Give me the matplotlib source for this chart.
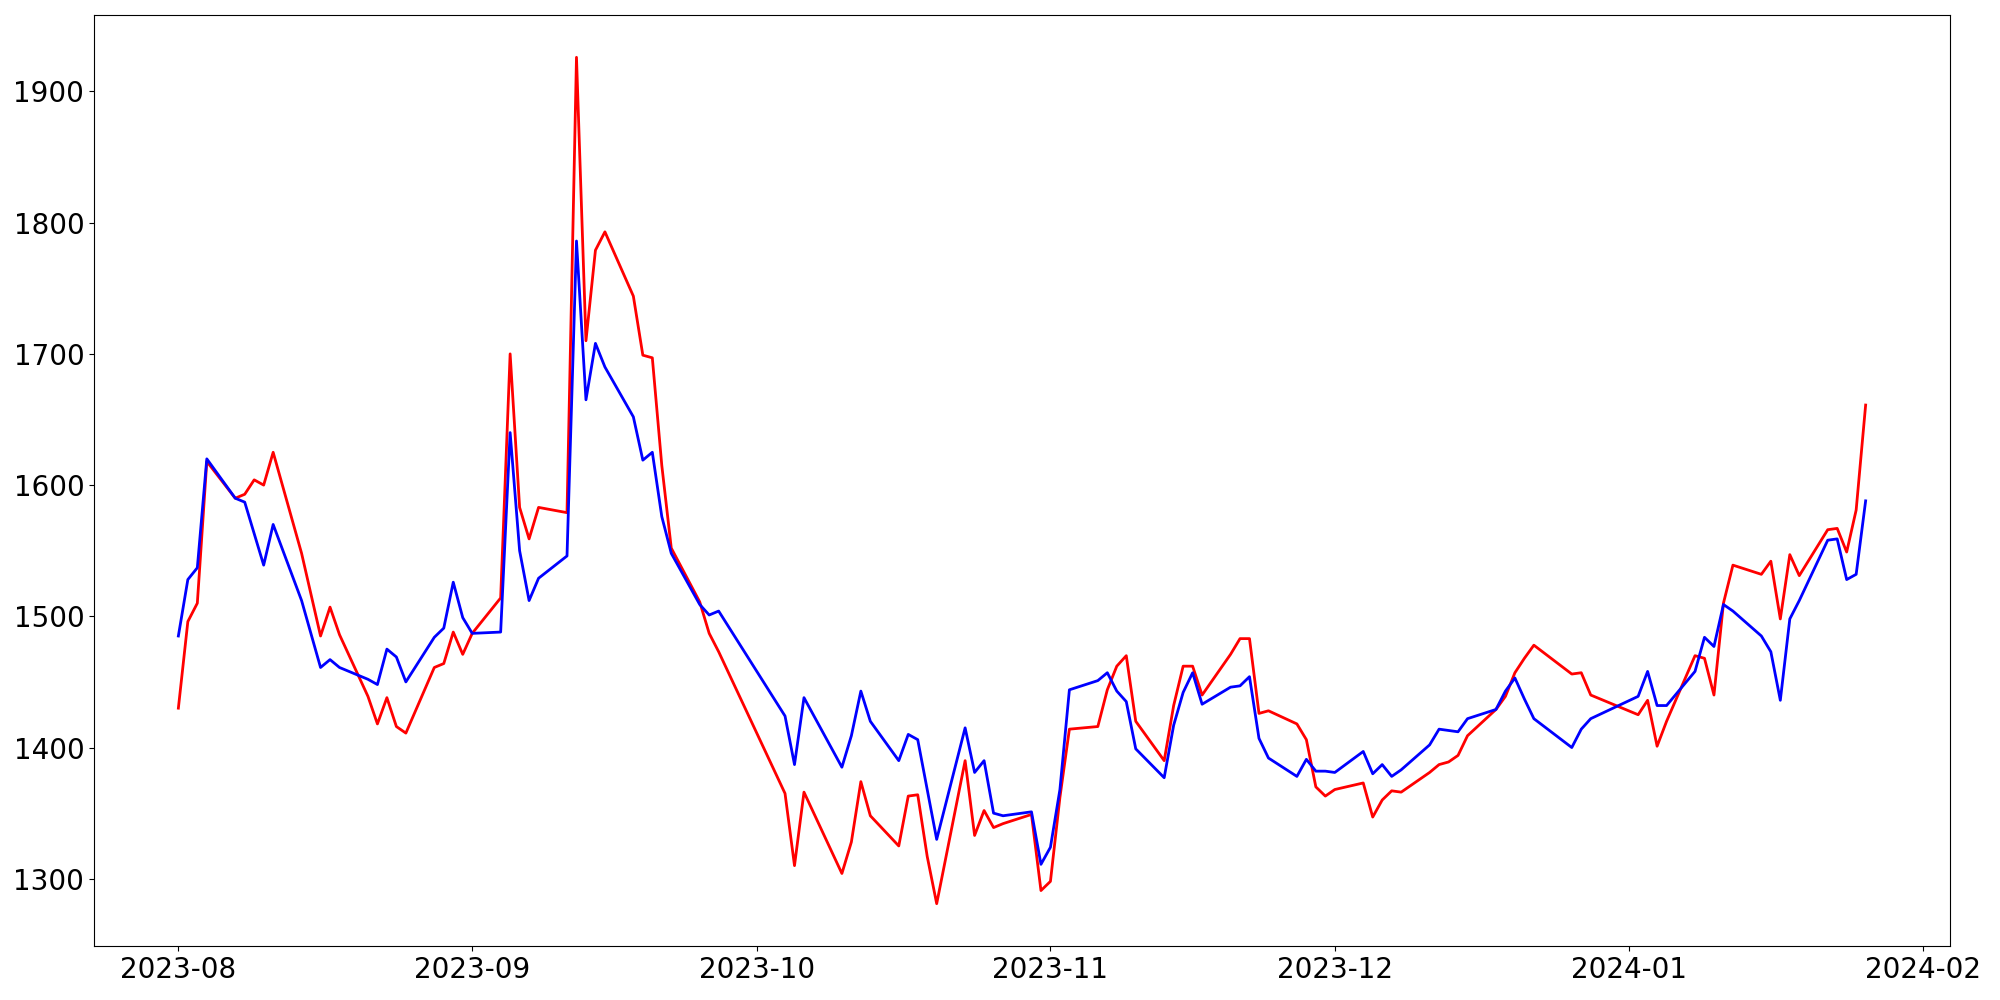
import matplotlib
matplotlib.use("Agg")
import matplotlib.pyplot as plt
import pandas as pd

dates = [
    "2023-08-01", "2023-08-02", "2023-08-03", "2023-08-04", "2023-08-07", "2023-08-08",
    "2023-08-09", "2023-08-10", "2023-08-11", "2023-08-14", "2023-08-16", "2023-08-17",
    "2023-08-18", "2023-08-21", "2023-08-22", "2023-08-23", "2023-08-24", "2023-08-25",
    "2023-08-28", "2023-08-29", "2023-08-30", "2023-08-31", "2023-09-01", "2023-09-04",
    "2023-09-05", "2023-09-06", "2023-09-07", "2023-09-08", "2023-09-11", "2023-09-12",
    "2023-09-13", "2023-09-14", "2023-09-15", "2023-09-18", "2023-09-19", "2023-09-20",
    "2023-09-21", "2023-09-22", "2023-09-25", "2023-09-26", "2023-09-27", "2023-10-04",
    "2023-10-05", "2023-10-06", "2023-10-10", "2023-10-11", "2023-10-12", "2023-10-13",
    "2023-10-16", "2023-10-17", "2023-10-18", "2023-10-19", "2023-10-20", "2023-10-23",
    "2023-10-24", "2023-10-25", "2023-10-26", "2023-10-27", "2023-10-30", "2023-10-31",
    "2023-11-01", "2023-11-02", "2023-11-03", "2023-11-06", "2023-11-07", "2023-11-08",
    "2023-11-09", "2023-11-10", "2023-11-13", "2023-11-14", "2023-11-15", "2023-11-16",
    "2023-11-17", "2023-11-20", "2023-11-21", "2023-11-22", "2023-11-23", "2023-11-24",
    "2023-11-27", "2023-11-28", "2023-11-29", "2023-11-30", "2023-12-01", "2023-12-04",
    "2023-12-05", "2023-12-06", "2023-12-07", "2023-12-08", "2023-12-11", "2023-12-12",
    "2023-12-13", "2023-12-14", "2023-12-15", "2023-12-18", "2023-12-19", "2023-12-20",
    "2023-12-21", "2023-12-22", "2023-12-26", "2023-12-27", "2023-12-28", "2024-01-02",
    "2024-01-03", "2024-01-04", "2024-01-05", "2024-01-08", "2024-01-09", "2024-01-10",
    "2024-01-11", "2024-01-12", "2024-01-15", "2024-01-16", "2024-01-17", "2024-01-18",
    "2024-01-19", "2024-01-22", "2024-01-23", "2024-01-24", "2024-01-25", "2024-01-26",
]

red_values = [
    1430, 1496, 1510, 1618, 1590, 1593,
    1604, 1600, 1625, 1548, 1485, 1507,
    1486, 1439, 1418, 1438, 1416, 1411,
    1461, 1464, 1488, 1471, 1487, 1514,
    1700, 1583, 1559, 1583, 1579, 1926,
    1710, 1779, 1793, 1744, 1699, 1697,
    1615, 1552, 1511, 1487, 1473, 1365,
    1310, 1366, 1304, 1328, 1374, 1348,
    1325, 1363, 1364, 1317, 1281, 1390,
    1333, 1352, 1339, 1342, 1349, 1291,
    1298, 1362, 1414, 1416, 1444, 1462,
    1470, 1420, 1390, 1432, 1462, 1462,
    1440, 1471, 1483, 1483, 1426, 1428,
    1418, 1406, 1370, 1363, 1368, 1373,
    1347, 1360, 1367, 1366, 1381, 1387,
    1389, 1394, 1409, 1429, 1439, 1457,
    1468, 1478, 1456, 1457, 1440, 1425,
    1436, 1401, 1420, 1470, 1468, 1440,
    1510, 1539, 1532, 1542, 1498, 1547,
    1531, 1566, 1567, 1549, 1581, 1661,
]

blue_values = [
    1485, 1528, 1537, 1620, 1590, 1587,
    1563, 1539, 1570, 1512, 1461, 1467,
    1461, 1452, 1448, 1475, 1469, 1450,
    1484, 1491, 1526, 1499, 1487, 1488,
    1640, 1550, 1512, 1529, 1546, 1786,
    1665, 1708, 1690, 1652, 1619, 1625,
    1576, 1548, 1509, 1501, 1504, 1424,
    1387, 1438, 1385, 1409, 1443, 1420,
    1390, 1410, 1406, 1368, 1330, 1415,
    1381, 1390, 1350, 1348, 1351, 1311,
    1324, 1368, 1444, 1451, 1457, 1443,
    1435, 1399, 1377, 1417, 1442, 1457,
    1433, 1446, 1447, 1454, 1407, 1392,
    1378, 1391, 1382, 1382, 1381, 1397,
    1380, 1387, 1378, 1383, 1402, 1414,
    1413, 1412, 1422, 1429, 1443, 1453,
    1437, 1422, 1400, 1414, 1422, 1439,
    1458, 1432, 1432, 1458, 1484, 1477,
    1509, 1504, 1485, 1473, 1436, 1498,
    1512, 1558, 1559, 1528, 1532, 1588,
]

x = pd.to_datetime(dates)

fig, ax = plt.subplots(figsize=(20, 10), dpi=100)
fig.subplots_adjust(left=0.047, right=0.975, bottom=0.054, top=0.985)
ax.plot(x, red_values, color="red", linewidth=2)
ax.plot(x, blue_values, color="blue", linewidth=2)
ax.tick_params(axis="both", labelsize=20)
fig.savefig("out.png", dpi=100)
